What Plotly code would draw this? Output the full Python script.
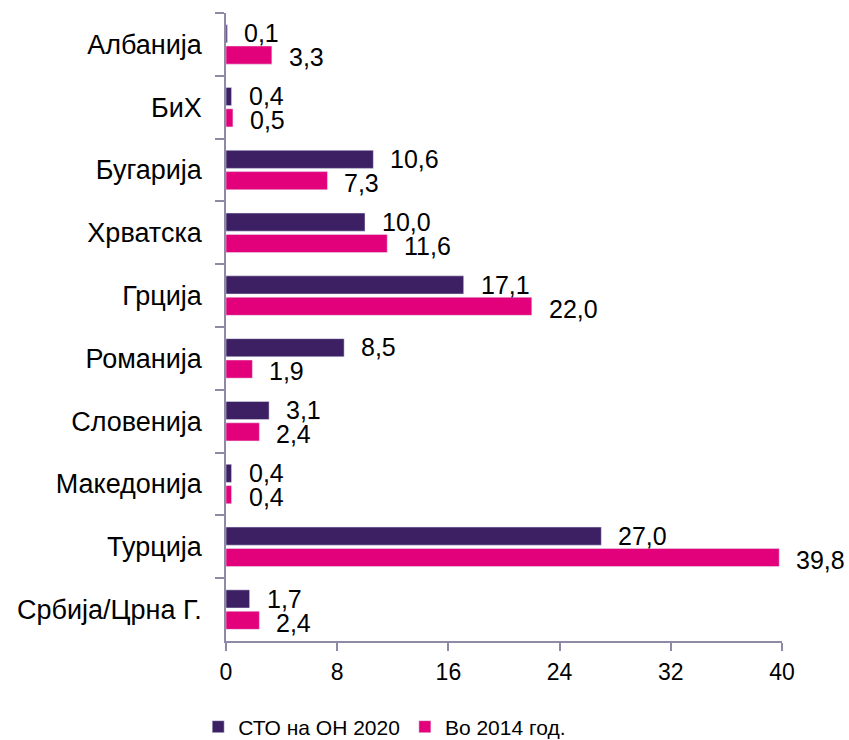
import plotly.graph_objects as go

countries = ["Албанија", "БиХ", "Бугарија", "Хрватска", "Грција", "Романија",
             "Словенија", "Македонија", "Турција", "Србија/Црна Г."]
sto_2020 = [0.1, 0.4, 10.6, 10.0, 17.1, 8.5, 3.1, 0.4, 27.0, 1.7]
vo_2014 = [3.3, 0.5, 7.3, 11.6, 22.0, 1.9, 2.4, 0.4, 39.8, 2.4]
x_ticks = [0, 8, 16, 24, 32, 40]

purple = "#3d1f64"
magenta = "#e3007b"
axis_col = "#8e8aa3"
font = "Liberation Sans, Arial, sans-serif"

fig = go.Figure()
fig.add_trace(go.Bar(y=countries, x=sto_2020, orientation="h", name="СТО на ОН 2020",
                     marker_color=purple))
fig.add_trace(go.Bar(y=countries, x=vo_2014, orientation="h", name="Во 2014 год.",
                     marker_color=magenta))

# value labels next to the bars
for c, a, b in zip(countries, sto_2020, vo_2014):
    fig.add_annotation(x=a, y=c, text=f"{a:.1f}".replace(".", ","), showarrow=False,
                       xanchor="left", xshift=16, yshift=11, borderpad=0,
                       font=dict(size=25, color="black"))
    fig.add_annotation(x=b, y=c, text=f"{b:.1f}".replace(".", ","), showarrow=False,
                       xanchor="left", xshift=16, yshift=-13, borderpad=0,
                       font=dict(size=25, color="black"))

fig.update_layout(
    width=849, height=740,
    margin=dict(l=226, r=67, t=13, b=99, autoexpand=False),
    plot_bgcolor="white", paper_bgcolor="white",
    font=dict(family=font, size=20, color="black"),
    barmode="group", bargap=0.32, bargroupgap=0.15,
    legend=dict(orientation="h", x=-0.05, xanchor="left", y=-0.137, yanchor="middle",
                font=dict(size=21), tracegroupgap=0),
    showlegend=True,
)
fig.update_xaxes(range=[0, 40], tickvals=x_ticks, showgrid=False, zeroline=False,
                 showline=True, linecolor=axis_col, linewidth=1.5,
                 ticks="outside", tickcolor=axis_col, ticklen=8, tickwidth=1.5,
                 ticklabelstandoff=2, tickfont=dict(size=23))
fig.update_yaxes(autorange="reversed", showgrid=False, showline=True, linecolor=axis_col,
                 linewidth=1.5, ticks="outside", tickson="boundaries", tickcolor=axis_col,
                 ticklen=9, tickwidth=1.5, ticklabelstandoff=17, tickfont=dict(size=27))

# page body has an 8px default margin, drop it so the figure fills the window
fig.write_html("out.html", config={"displayModeBar": False},
               post_script="document.body.style.margin='0px';")
